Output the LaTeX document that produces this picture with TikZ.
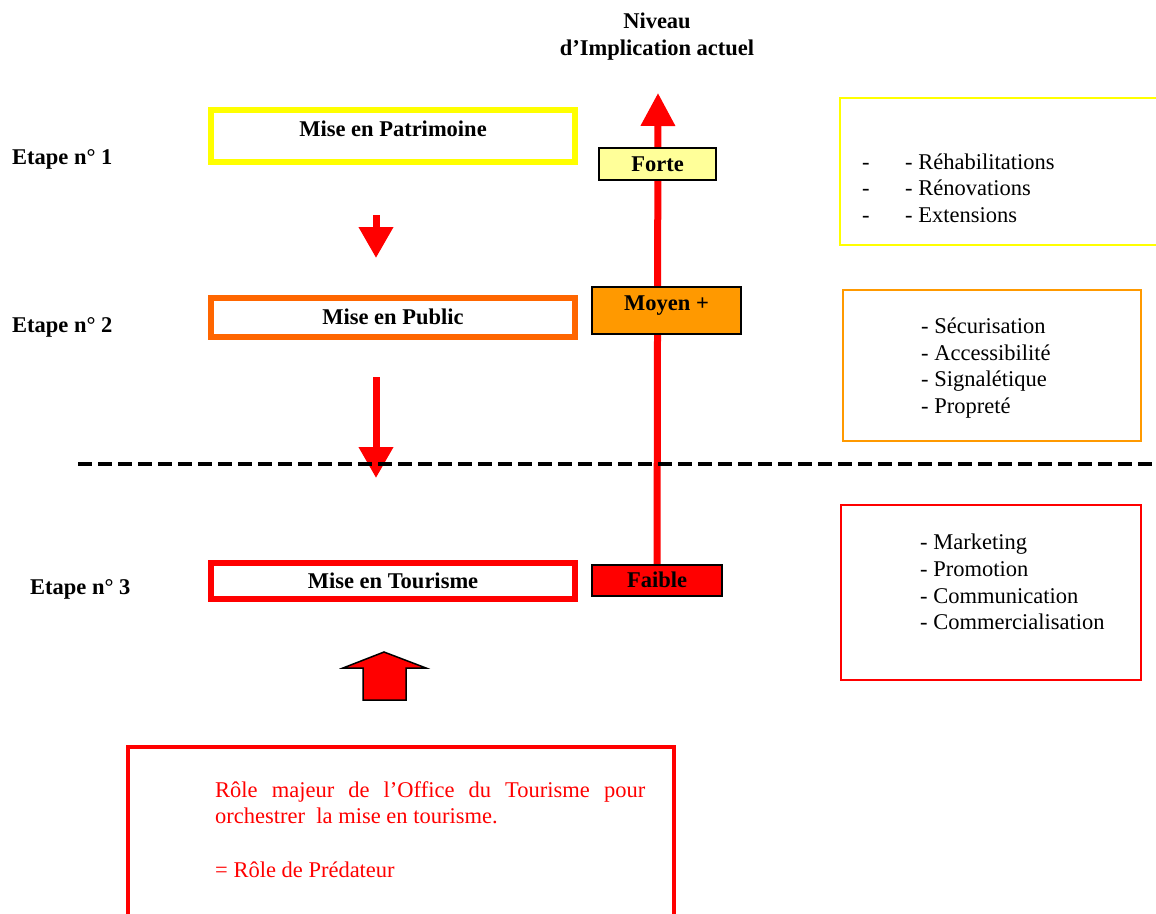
\documentclass[tikz,border=0pt]{standalone}
\usepackage{fontspec}
\setmainfont{Liberation Serif}
\usetikzlibrary{arrows.meta, positioning, backgrounds}
\definecolor{StageYellow}{HTML}{FFFF00}
\definecolor{StageOrange}{HTML}{FF6600}
\definecolor{LevelOrange}{HTML}{FF9900}
\definecolor{LevelYellow}{HTML}{FFFF99}
\definecolor{StageRed}{HTML}{FF0000}

\begin{document}
\begin{tikzpicture}[x=1pt, y=-1pt,
  stage/.style={draw, line width=6pt, fill=white, minimum width=364pt,
    inner sep=0pt, font=\fontsize{22.5}{27}\selectfont\bfseries,
    text height=17pt, text depth=3pt},
  level/.style={draw=black, line width=1.5pt, inner sep=0pt,
    font=\fontsize{22.5}{27}\selectfont\bfseries, text height=17pt, text depth=3pt},
  etape/.style={anchor=west, inner sep=0pt, font=\fontsize{22.5}{27}\selectfont\bfseries},
  list/.style={anchor=west, align=left, inner sep=0pt,
    font=\fontsize{22.5}{26.7}\selectfont},
  down/.style={StageRed, line width=7pt, -{Triangle[width=33pt,length=31pt]}}
]
\useasboundingbox (0,0) rectangle (1156,913);

\node[align=center, font=\fontsize{22.5}{27}\selectfont\bfseries] (niveau) at (657,37)
  {Niveau\\d’Implication actuel};

\node[etape] (e1) at (12,159) {Etape n° 1};
\node[etape] (e2) at (12,327) {Etape n° 2};
\node[etape] (e3) at (30,589) {Etape n° 3};

\node[stage, draw=StageYellow, minimum height=52pt, text depth=17pt] (patrimoine) at (393,136) {Mise en Patrimoine};
\node[stage, draw=StageOrange, minimum height=39pt] (public) at (393,317.5) {Mise en Public};
\node[stage, draw=StageRed, minimum height=36pt] (tourisme) at (393,581) {Mise en Tourisme};

\node[level, fill=LevelYellow, minimum width=117pt, minimum height=32pt] (forte) at (657.5,164) {Forte};
\node[level, fill=LevelOrange, minimum width=149pt, minimum height=47pt, text depth=18pt] (moyen) at (666.5,310.5) {Moyen +};
\node[level, fill=StageRed, minimum width=130pt, minimum height=31pt] (faible) at (657,580.5) {Faible};

\coordinate (top) at (658,93);
\begin{scope}[on background layer]
\draw[StageRed, line width=7pt, -{Triangle[width=33pt,length=33pt]}] (faible.center) -- (top);
\end{scope}

\coordinate (d1a) at (376,215);
\coordinate (d1b) at (376,258);
\coordinate (d2a) at (376,377);
\coordinate (d2b) at (376,478);
\draw[down] (d1a) -- (d1b);
\draw[down] (d2a) -- (d2b);

\draw[line width=4pt, dash pattern=on 14pt off 6pt] (78,464) -- (1156,464);

\draw[StageYellow, line width=2pt] (1157,98) -- (840,98) -- (840,245) -- (1157,245);
\node[list] (travaux) at (862,188)
  {\makebox[43pt][l]{-}- Réhabilitations\\\makebox[43pt][l]{-}- Rénovations\\\makebox[43pt][l]{-}- Extensions};

\draw[LevelOrange, line width=1.5pt] (843,290) rectangle (1141,441);
\node[list] (accueil) at (921,368)
  {- Sécurisation\\- Accessibilité\\- Signalétique\\- Propreté};

\draw[StageRed, line width=1.5pt] (841,505) rectangle (1141,680);
\node[list] (promo) at (920,582)
  {- Marketing\\- Promotion\\- Communication\\- Commercialisation};

\draw[fill=StageRed, line width=1.5pt] (363,700) -- (363,668) -- (343,668) -- (384,652)
  -- (426,668) -- (406,668) -- (406,700) -- cycle;

\draw[StageRed, line width=4pt] (128,914) -- (128,747) -- (674,747) -- (674,914);
\node[anchor=north west, inner sep=0pt, text width=430pt, align=justify, text=StageRed,
  font=\fontsize{22.5}{26.7}\selectfont] (role) at (215,781)
  {Rôle majeur de l’Office du Tourisme pour\linebreak orchestrer\ \ la mise en tourisme.\\[26.7pt]
   = Rôle de Prédateur};
\end{tikzpicture}
\end{document}
